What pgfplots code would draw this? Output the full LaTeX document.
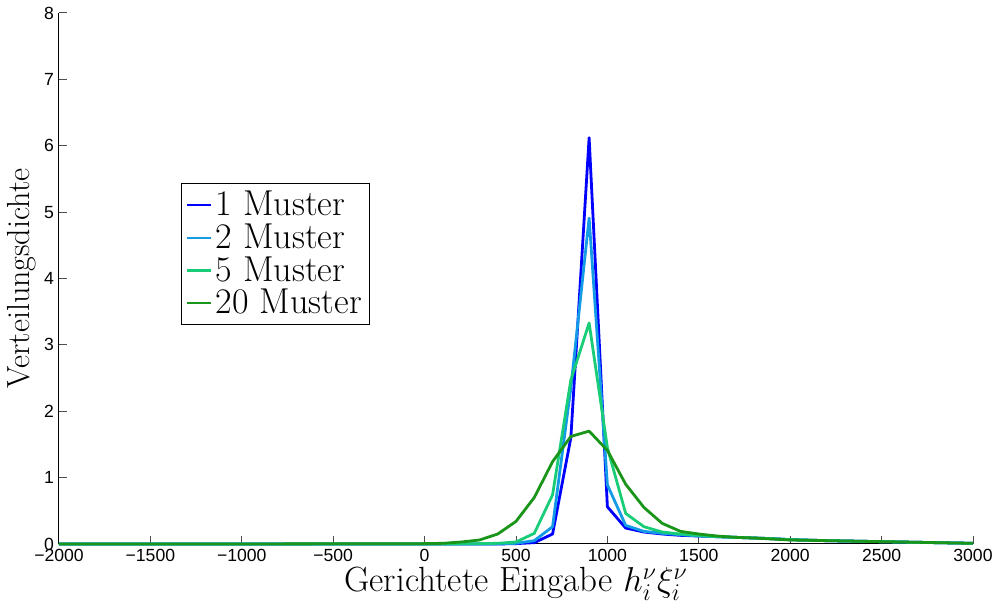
\documentclass[border=0pt]{standalone}
\usepackage{fontspec}
\usepackage{pgfplots}
\pgfplotsset{compat=1.18}
\usepackage{pgfplotstable}
\newfontfamily\ticksf{Liberation Sans}
\definecolor{c1}{RGB}{0,0,255}
\definecolor{c2}{RGB}{20,155,230}
\definecolor{c3}{RGB}{25,205,120}
\definecolor{c4}{RGB}{25,150,25}
\pgfplotstableread{
x b lb lg g
-2000 0 0 0 0
-1000 0 0 0 0
0 0 0 0 0.005
100 0 0 0 0.01
200 0 0 0.002 0.03
300 0 0 0.005 0.06
400 0 0.002 0.01 0.15
500 0.005 0.01 0.03 0.34
600 0.02 0.05 0.16 0.70
700 0.15 0.26 0.74 1.24
800 1.6 2.35 2.47 1.62
900 6.12 4.91 3.33 1.70
1000 0.56 0.89 1.45 1.41
1100 0.24 0.28 0.46 0.90
1200 0.18 0.19 0.26 0.55
1300 0.15 0.16 0.18 0.31
1400 0.13 0.14 0.15 0.19
1500 0.12 0.12 0.13 0.15
1600 0.11 0.11 0.11 0.12
1700 0.10 0.10 0.10 0.10
1800 0.09 0.09 0.09 0.09
1900 0.08 0.08 0.08 0.075
2000 0.065 0.065 0.065 0.06
2200 0.05 0.05 0.05 0.05
2500 0.035 0.035 0.035 0.035
2800 0.02 0.02 0.02 0.02
3000 0.01 0.01 0.01 0.01
}\data
\begin{document}
\begin{tikzpicture}
\begin{axis}[
  name=ax,
  scale only axis,
  width=457pt, height=265.5pt,
  xmin=-2000, xmax=3000, ymin=0, ymax=8,
  axis lines=left,
  axis line style={-, black, line width=0.5pt},
  tick align=inside,
  major tick length=4pt,
  tick style={black!70, line width=0.5pt},
  xtick={-2000,-1500,...,3000},
  xticklabels={−2000,−1500,−1000,−500,0,500,1000,1500,2000,2500,3000},
  ytick={0,1,...,8},
  yticklabels={0,1,2,3,4,5,6,7,8},
  tick label style={font=\ticksf\fontsize{8.8}{10}\selectfont},
  xticklabel style={yshift=1pt},
  yticklabel style={xshift=1pt},
  xlabel={\fontsize{17.5}{19}\selectfont Gerichtete Eingabe $h_i^\nu\xi_i^\nu$},
  ylabel={\fontsize{16}{18}\selectfont Verteilungsdichte},
  xlabel style={yshift=4pt},
  ylabel style={yshift=-3pt},
  legend style={at={(rel axis cs:0.1335,0.680)}, anchor=north west,
    font=\fontsize{18}{19}\selectfont, inner sep=2pt, row sep=-1.5pt,
    draw=black, line width=0.5pt},
  legend cell align=left,
  legend image code/.code={\draw[#1, line width=1.2pt] (0pt,0pt) -- (12pt,0pt);},
  every axis plot/.append style={line width=1.4pt, line join=round},
  clip=false,
]
\addplot[c1] table[x=x,y=b]{\data};
\addplot[c2] table[x=x,y=lb]{\data};
\addplot[c3] table[x=x,y=lg]{\data};
\addplot[c4] table[x=x,y=g]{\data};
\legend{1 Muster,2 Muster,5 Muster,20 Muster}
\coordinate (bl) at (rel axis cs:0,0);
\coordinate (tr) at (rel axis cs:1,1);
\end{axis}
\pgfresetboundingbox
\path ([shift={(-29.5pt,-29.5pt)}]bl) rectangle ([shift={(10.5pt,6.5pt)}]tr);
\end{tikzpicture}
\end{document}
